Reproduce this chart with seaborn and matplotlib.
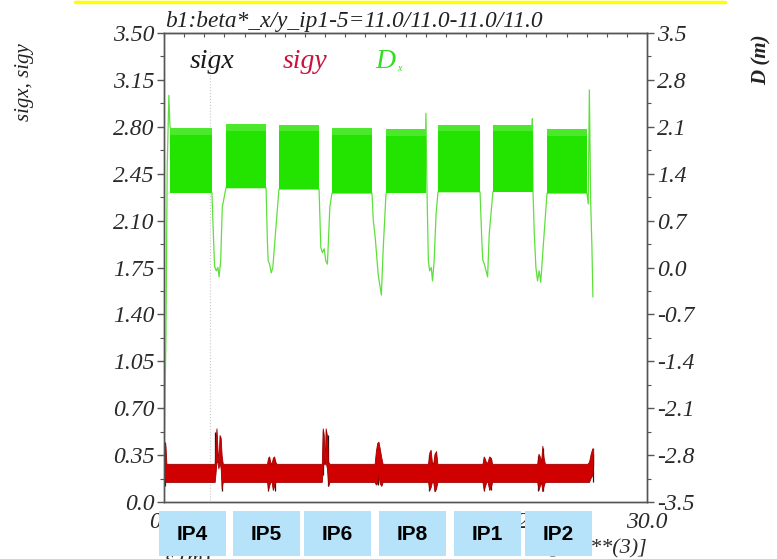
import numpy as np
import seaborn as sns
import matplotlib.pyplot as plt
from matplotlib.ticker import MultipleLocator
from matplotlib.patches import Rectangle
from matplotlib.lines import Line2D

# s in km (axis shows *10**3 m)
# arcs: dispersion oscillates so fast it reads as a solid band
arc_start = [0.37, 3.85, 7.14, 10.43, 13.79, 17.02, 20.43, 23.79]
arc_end = [2.98, 6.34, 9.63, 12.92, 16.27, 19.63, 22.92, 26.27]
d_high = [2.08, 2.14, 2.13, 2.08, 2.07, 2.13, 2.13, 2.07]
d_low = [1.11, 1.19, 1.17, 1.11, 1.11, 1.13, 1.13, 1.11]

# dispersion trace through the insertions
d_s = [0.03, 0.12, 0.2, 0.3, 0.37,
       2.98, 3.05, 3.14, 3.25, 3.35, 3.42, 3.52, 3.62, 3.85,
       6.34, 6.42, 6.47, 6.56, 6.66, 6.76, 6.92, 7.14,
       9.63, 9.74, 9.84, 9.95, 10.05, 10.15, 10.3, 10.43,
       12.92, 13.0, 13.12, 13.3, 13.5, 13.62, 13.79,
       16.2, 16.27, 16.33, 16.42, 16.5, 16.6, 16.68, 16.78, 16.9, 17.02,
       19.63, 19.74, 19.8, 19.9, 20.1, 20.2, 20.43,
       22.85, 22.88, 22.92, 23.0, 23.1, 23.2, 23.3, 23.4, 23.55, 23.79,
       26.27, 26.35, 26.42, 26.5, 26.58, 26.64]
d_v = [-2.6, -1.0, 1.5, 2.57, 2.1,
       1.11, 0.6, 0.02, -0.05, 0.0, -0.14, 0.1, 0.9, 1.19,
       1.19, 0.4, 0.1, 0.05, -0.08, 0.0, 0.5, 1.17,
       1.17, 0.3, 0.22, 0.28, 0.1, 0.05, 0.9, 1.11,
       1.11, 0.7, 0.45, -0.1, -0.41, 0.3, 1.11,
       1.4, 2.3, 1.2, 0.1, -0.05, 0.0, -0.2, 0.1, 0.8, 1.13,
       1.13, 0.4, 0.11, 0.05, -0.14, 0.5, 1.13,
       1.5, 2.22, 1.13, 0.5, 0.0, -0.2, -0.05, -0.22, 0.3, 1.11,
       1.11, 0.95, 2.65, 1.0, 0.3, -0.44]

# sigy envelope
sigy_s = [0.02, 0.08, 0.15,
          3.15, 3.2, 3.26, 3.32, 3.38, 3.45, 3.52, 3.58, 3.65,
          6.40, 6.46, 6.53, 6.60, 6.68, 6.76, 6.84, 6.92, 6.98,
          9.80, 9.86, 9.92, 9.98, 10.04, 10.12, 10.20, 10.28,
          13.08, 13.16, 13.24, 13.32, 13.40, 13.50, 13.58,
          16.40, 16.48, 16.56, 16.64, 16.72, 16.80, 16.90, 16.98,
          19.78, 19.86, 19.94, 20.02, 20.10, 20.20, 20.30, 20.38,
          23.18, 23.26, 23.34, 23.42, 23.50, 23.58, 23.66,
          26.30, 26.40, 26.50, 26.60, 26.66]
sigy_hi = [0.45, 0.44, 0.285,
           0.285, 0.45, 0.55, 0.40, 0.30, 0.50, 0.48, 0.35, 0.285,
           0.285, 0.33, 0.34, 0.30, 0.285, 0.33, 0.34, 0.30, 0.285,
           0.285, 0.55, 0.50, 0.30, 0.55, 0.50, 0.30, 0.285,
           0.285, 0.38, 0.44, 0.45, 0.40, 0.33, 0.285,
           0.285, 0.37, 0.39, 0.30, 0.285, 0.36, 0.38, 0.285,
           0.285, 0.34, 0.32, 0.29, 0.30, 0.34, 0.33, 0.285,
           0.285, 0.36, 0.34, 0.30, 0.42, 0.33, 0.285,
           0.285, 0.30, 0.36, 0.40, 0.40]
sigy_lo = [0.18, 0.15, 0.15,
           0.15, 0.22, 0.30, 0.30, 0.25, 0.30, 0.25, 0.10, 0.15,
           0.15, 0.09, 0.12, 0.15, 0.15, 0.09, 0.12, 0.15, 0.15,
           0.15, 0.25, 0.30, 0.28, 0.30, 0.25, 0.12, 0.15,
           0.15, 0.13, 0.14, 0.20, 0.14, 0.12, 0.15,
           0.15, 0.09, 0.11, 0.15, 0.15, 0.08, 0.10, 0.15,
           0.15, 0.09, 0.12, 0.15, 0.15, 0.09, 0.11, 0.15,
           0.15, 0.09, 0.12, 0.15, 0.08, 0.12, 0.15,
           0.15, 0.15, 0.18, 0.20, 0.28]

# sigx sits under sigy, only its strokes at the insertions show
sigx_s = [0.04, 3.19, 3.60, 6.47, 6.87, 9.87, 10.17, 13.30, 16.49, 16.84, 19.85, 20.32, 23.25, 23.52, 26.62]
sigx_top = [0.42, 0.52, 0.30, 0.30, 0.30, 0.53, 0.50, 0.42, 0.35, 0.35, 0.33, 0.32, 0.34, 0.40, 0.36]
sigx_bot = [0.12, 0.20, 0.08, 0.08, 0.08, 0.20, 0.12, 0.13, 0.08, 0.08, 0.08, 0.09, 0.08, 0.08, 0.15]

marker_s = 2.86
ip_labels = ["IP4", "IP5", "IP6", "IP8", "IP1", "IP2"]

left_ticks = ["0.0", "0.35", "0.70", "1.05", "1.40", "1.75", "2.10", "2.45", "2.80", "3.15", "3.50"]
right_ticks = ["-3.5", "-2.8", "-2.1", "-1.4", "-0.7", "0.0", "0.7", "1.4", "2.1", "2.8", "3.5"]
x_ticks = ["0.0", "7.5", "15.0", "22.5", "30.0"]

sns.set_style("white")
plt.rcParams['font.family'] = ['Liberation Serif', 'DejaVu Serif']

W, H = 777, 559
def px(x, y):
    return x / W, 1 - y / H

fig = plt.figure(figsize=(7.77, 5.59), dpi=100)
ax = fig.add_axes([164 / W, 1 - 502 / H, (647 - 164) / W, (502 - 33) / H])
ax2 = ax.twinx()

# sigma plots on left axis
ax.vlines(sigx_s, sigx_bot, sigx_top, color="#1a1a1a", lw=0.9, zorder=2)
ax.fill_between(sigy_s, sigy_lo, sigy_hi, color="#d00000", lw=0.6, edgecolor="#a00000", zorder=3)
ax.axvline(marker_s, ymin=0.005, ymax=0.965, color="#c8c8c8", lw=0.8, ls=":", zorder=1)

ax.set_xlim(0, 30)
ax.set_ylim(0, 3.5)
ax.set_yticks(np.linspace(0, 3.5, 11))
ax.set_yticklabels(left_ticks)
ax.yaxis.set_minor_locator(MultipleLocator(0.175))
ax.set_xticks([0, 7.5, 15, 22.5, 30])
ax.set_xticklabels(x_ticks)
ax.xaxis.set_minor_locator(MultipleLocator(2.5))

# dispersion on right axis
sns.lineplot(x=d_s, y=d_v, ax=ax2, sort=False, estimator=None, color="#5ee03c", lw=0.9, zorder=2)
for a0, a1, lo, hi in zip(arc_start, arc_end, d_low, d_high):
    ax2.fill_between([a0, a1], [lo, lo], [hi, hi], color="#22e400", lw=0, zorder=3)
    ax2.fill_between([a0, a1], [hi - 0.1, hi - 0.1], [hi, hi], color="#4ce82c", lw=0, zorder=4)
ax2.set_ylim(-3.5, 3.5)
ax2.set_yticks(np.linspace(-3.5, 3.5, 11))
ax2.set_yticklabels(right_ticks)
ax2.yaxis.set_minor_locator(MultipleLocator(0.35))
ax2.set_ylabel("")

for t in ax.get_yticklabels() + ax.get_xticklabels() + ax2.get_yticklabels():
    t.set_family("Liberation Serif")
    t.set_style("italic")
    t.set_size(17)
    t.set_color("#2a2a2a")

for a in (ax, ax2):
    for sp in a.spines.values():
        sp.set_color("#555555")
        sp.set_linewidth(1.0)
ax.tick_params(axis="both", which="major", direction="out", length=5, width=1, color="#555555", pad=2)
ax.tick_params(axis="both", which="minor", direction="out", length=3, width=0.8, color="#555555")
ax.tick_params(axis="y", right=False, which="both")
ax2.tick_params(axis="y", which="major", direction="out", length=5, width=1, color="#555555", pad=2)
ax2.tick_params(axis="y", which="minor", direction="out", length=3, width=0.8, color="#555555")

top = ax.secondary_xaxis("top")
top.xaxis.set_major_locator(MultipleLocator(1.25))
top.tick_params(direction="in", length=3, width=0.8, color="#555555", labeltop=False)
top.spines["top"].set_color("#555555")

# texts
fig.text(*px(165, 27), "b1:beta*_x/y_ip1-5=11.0/11.0-11.0/11.0", ha="left", va="baseline",
         family="Liberation Serif", style="italic", size=16.8, color="#222222")
fig.text(*px(190, 68), "sigx", ha="left", va="baseline", family="Liberation Serif",
         style="italic", size=20, color="#1a1a1a")
fig.text(*px(283, 68), "sigy", ha="left", va="baseline", family="Liberation Serif",
         style="italic", size=20, color="#c8143c")
fig.text(*px(375, 68), "D", ha="left", va="baseline", family="Liberation Serif",
         style="italic", size=20, color="#33dd22")
fig.text(*px(397, 71), "x", ha="left", va="baseline", family="Liberation Serif",
         style="italic", size=7, color="#33dd22")
fig.text(*px(25, 82), "sigx, sigy", ha="center", va="center", rotation=90,
         family="Liberation Serif", style="italic", size=15, color="#222222")
fig.text(*px(762, 60), "D (m)", ha="center", va="center", rotation=90,
         family="Liberation Serif", style="italic", weight="bold", size=15, color="#222222")
fig.text(*px(647, 553), "[*10**(3)]", ha="right", va="baseline", family="Liberation Serif",
         style="italic", size=16, color="#2a2a2a")
fig.text(*px(165, 551), "s (m)", ha="left", va="top", family="Liberation Serif",
         style="italic", size=16, color="#2a2a2a")

# IP boxes over the bottom axis
box_x = [159, 233, 304, 379, 454, 525]
for lab, x0 in zip(ip_labels, box_x):
    fig.add_artist(Rectangle(px(x0, 556), 67 / W, 45 / H, transform=fig.transFigure,
                             facecolor="#b6e3fa", edgecolor="none", zorder=10))
    fig.text(*px(x0 + 33.5, 535), lab, ha="center", va="center", family="Liberation Sans",
             weight="bold", size=15, color="black", zorder=11)

fig.add_artist(Line2D([75 / W, 725 / W], [1 - 1.5 / H] * 2, color="#ffff00", lw=2.5))

fig.savefig("out.png", dpi=100)
